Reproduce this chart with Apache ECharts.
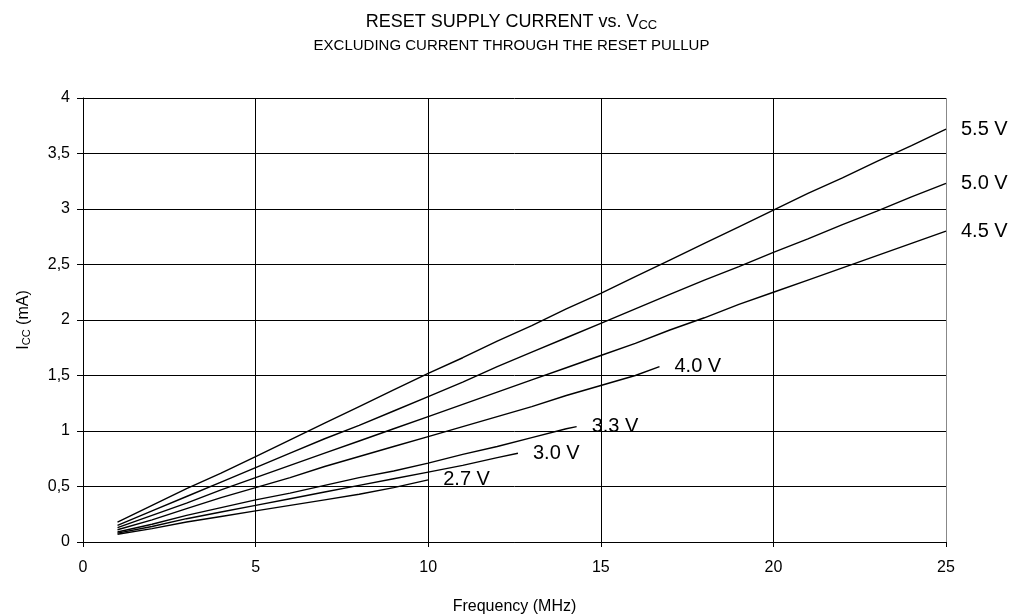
<!DOCTYPE html>
<html>
<head>
<meta charset="utf-8">
<script src="https://cdn.jsdelivr.net/npm/echarts@6/dist/echarts.min.js"></script>
<style>
  html, body { margin: 0; padding: 0; background: #fff; }
  #chart { width: 1023px; height: 615px; }
</style>
</head>
<body>
<div id="chart"></div>
<script>
// Supply current (mA) vs clock frequency (MHz), one curve per supply voltage
const freq = [1, 2, 3, 4, 5, 6, 7, 8, 9, 10, 11, 12, 13, 14, 15, 16, 17, 18, 19, 20, 21, 22, 23, 24, 25];

const v55 = [0.18, 0.33, 0.48, 0.62, 0.77, 0.92, 1.07, 1.22, 1.37, 1.52, 1.66, 1.81, 1.95, 2.10, 2.24, 2.39, 2.54, 2.69, 2.84, 2.99, 3.14, 3.28, 3.43, 3.57, 3.72];
const v50 = [0.15, 0.28, 0.41, 0.54, 0.67, 0.80, 0.93, 1.05, 1.18, 1.31, 1.44, 1.58, 1.71, 1.84, 1.97, 2.10, 2.23, 2.36, 2.48, 2.61, 2.73, 2.86, 2.98, 3.11, 3.23];
const v45 = [0.13, 0.24, 0.35, 0.47, 0.58, 0.69, 0.80, 0.91, 1.02, 1.13, 1.24, 1.35, 1.46, 1.57, 1.68, 1.79, 1.91, 2.02, 2.14, 2.25, 2.36, 2.47, 2.58, 2.69, 2.80];

const f40 = [1, 2, 3, 4, 5, 6, 7, 8, 9, 10, 11, 12, 13, 14, 15, 16, 16.7];
const v40 = [0.11, 0.20, 0.30, 0.40, 0.49, 0.58, 0.68, 0.77, 0.86, 0.95, 1.04, 1.13, 1.22, 1.32, 1.41, 1.50, 1.58];

const f33 = [1, 2, 3, 4, 5, 6, 7, 8, 9, 10, 11, 12, 13, 14, 14.3];
const v33 = [0.09, 0.16, 0.24, 0.31, 0.38, 0.44, 0.51, 0.58, 0.64, 0.71, 0.79, 0.86, 0.94, 1.02, 1.04];

const f30 = [1, 2, 3, 4, 5, 6, 7, 8, 9, 10, 11, 12, 12.6];
const v30 = [0.08, 0.14, 0.21, 0.27, 0.33, 0.39, 0.45, 0.51, 0.57, 0.63, 0.69, 0.76, 0.80];

const f27 = [1, 2, 3, 4, 5, 6, 7, 8, 9, 10];
const v27 = [0.07, 0.12, 0.18, 0.23, 0.28, 0.33, 0.38, 0.43, 0.49, 0.56];

const curves = [
  { name: '5.5 V', x: freq, y: v55 },
  { name: '5.0 V', x: freq, y: v50 },
  { name: '4.5 V', x: freq, y: v45 },
  { name: '4.0 V', x: f40, y: v40 },
  { name: '3.3 V', x: f33, y: v33 },
  { name: '3.0 V', x: f30, y: v30 },
  { name: '2.7 V', x: f27, y: v27 }
];

const yTicks = [0, 0.5, 1, 1.5, 2, 2.5, 3, 3.5, 4];
const FONT = 'Liberation Sans, Arial, sans-serif';

const chart = echarts.init(document.getElementById('chart'), null, { renderer: 'canvas' });

chart.setOption({
  backgroundColor: '#fff',
  animation: false,
  title: [
    {
      text: '{m|RESET SUPPLY CURRENT vs. V}{s|CC}',
      left: 'center', top: 7,
      textStyle: {
        rich: {
          m: { fontFamily: FONT, fontSize: 18, fontWeight: 'normal', color: '#000' },
          s: { fontFamily: FONT, fontSize: 13, fontWeight: 'normal', color: '#000', verticalAlign: 'bottom', padding: [7, 0, 0, 0] }
        }
      }
    },
    {
      text: 'EXCLUDING CURRENT THROUGH THE RESET PULLUP',
      left: 'center', top: 33,
      textStyle: { fontFamily: FONT, fontSize: 15, fontWeight: 'normal', color: '#000' }
    }
  ],
  grid: {
    left: 83, right: 77, top: 98, bottom: 73,
    outerBoundsMode: 'none', containLabel: false,
    show: true, borderColor: '#888', borderWidth: 0
  },
  xAxis: {
    type: 'value', min: 0, max: 25, interval: 5,
    name: 'Frequency (MHz)', nameLocation: 'middle', nameGap: 57,
    nameTextStyle: { fontFamily: FONT, fontSize: 16, color: '#000' },
    axisLine: { show: true, lineStyle: { color: '#000', width: 1 } },
    axisTick: { show: true, inside: false, length: 5, lineStyle: { color: '#000' } },
    axisLabel: { fontFamily: FONT, fontSize: 16, color: '#000', margin: 18 },
    splitLine: { show: true, lineStyle: { color: ['#000', '#000', '#000', '#000', '#000', '#888'], width: 1 } }
  },
  yAxis: {
    type: 'value', min: 0, max: 4, interval: 0.5,
    name: '{m|I}{s|CC}{m| (mA)}', nameLocation: 'middle', nameGap: 51, nameRotate: 90,
    nameTextStyle: {
      rich: {
        m: { fontFamily: FONT, fontSize: 16, color: '#000' },
        s: { fontFamily: FONT, fontSize: 11, color: '#000', verticalAlign: 'bottom', padding: [6, 0, 0, 0] }
      }
    },
    axisLine: { show: true, lineStyle: { color: '#000', width: 1 } },
    axisTick: { show: true, inside: false, length: 6, lineStyle: { color: '#000' } },
    axisLabel: {
      fontFamily: FONT, fontSize: 16, color: '#000', margin: 13,
      formatter: v => (yTicks.indexOf(v) >= 0 ? String(v).replace('.', ',') : '')
    },
    splitLine: { show: true, lineStyle: { color: '#000', width: 1 } }
  },
  series: curves.map(c => ({
    name: c.name,
    type: 'line',
    data: c.x.map((f, i) => [f, c.y[i]]),
    showSymbol: false,
    symbol: 'none',
    smooth: false,
    clip: false,
    lineStyle: { color: '#000', width: 1.4 },
    endLabel: {
      show: true,
      formatter: '{a}',
      distance: 15,
      fontFamily: FONT, fontSize: 20, color: '#000'
    },
    emphasis: { disabled: true }
  }))
});
</script>
</body>
</html>
